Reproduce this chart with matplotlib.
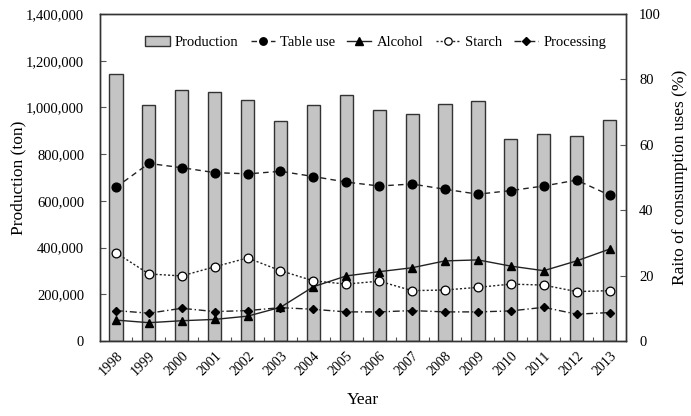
import matplotlib
matplotlib.use("Agg")
import matplotlib.pyplot as plt
from matplotlib.ticker import FuncFormatter, FixedLocator
from matplotlib.legend_handler import HandlerPatch
from matplotlib.patches import Rectangle
import numpy as np

years = ["1998", "1999", "2000", "2001", "2002", "2003", "2004", "2005",
         "2006", "2007", "2008", "2009", "2010", "2011", "2012", "2013"]
production = [1142000, 1010000, 1075000, 1065000, 1032000, 943000, 1010000, 1055000,
              990000, 970000, 1013000, 1028000, 866000, 886000, 878000, 946000]
table_use = [47.0, 54.3, 53.0, 51.5, 51.1, 51.9, 50.3, 48.6,
             47.4, 48.0, 46.4, 44.9, 46.0, 47.4, 49.2, 44.6]
alcohol = [6.4, 5.6, 6.2, 6.6, 7.6, 10.3, 16.6, 19.9,
           21.2, 22.4, 24.5, 24.8, 22.9, 21.5, 24.5, 28.1]
starch = [27.0, 20.5, 19.9, 22.7, 25.4, 21.5, 18.4, 17.4,
          18.3, 15.4, 15.6, 16.4, 17.4, 17.1, 15.1, 15.4]
processing = [9.3, 8.5, 10.0, 9.0, 9.3, 10.2, 9.7, 8.9,
              8.9, 9.3, 8.9, 8.9, 9.2, 10.3, 8.2, 8.7]

plt.rcParams['font.family'] = ['Liberation Serif', 'DejaVu Serif']

fig = plt.figure(figsize=(6.91, 4.16), dpi=100)
ax = fig.add_axes([99.5 / 691, 1 - 341 / 416, (626 - 99.5) / 691, (341 - 14) / 416])
x = np.arange(len(years))

bars = ax.bar(x, production, width=0.4, color='#c4c4c4', edgecolor='#333333',
              linewidth=1.0, label='Production', zorder=2)
ax.set_xlim(-0.5, len(years) - 0.5)
ax.set_ylim(0, 1400000)
ax.set_yticks(np.arange(0, 1400001, 200000))
ax.yaxis.set_major_formatter(FuncFormatter(lambda v, p: f"{int(v):,}"))
ax.set_xticks(x)
ax.set_xticklabels(years, rotation=45, ha='right', rotation_mode='anchor', fontsize=10)
ax.tick_params(axis='x', which='major', length=0, pad=6)
ax.xaxis.set_minor_locator(FixedLocator(np.arange(0.5, len(years) - 1, 1.0)))
ax.tick_params(axis='x', which='minor', direction='in', length=3, width=0.8, color='#555555')
ax.tick_params(axis='y', direction='in', length=4, width=0.8, labelsize=10.5,
               color='#555555', pad=11)
ax.set_ylabel('Production (ton)', fontsize=12.5, labelpad=-0.5)
ax.set_xlabel('Year', fontsize=12.5, labelpad=10)
for s in ax.spines.values():
    s.set_color('#333333')
    s.set_linewidth(1.0)

ax2 = ax.twinx()
ax2.set_ylim(0, 100)
ax2.set_yticks(np.arange(0, 101, 20))
ax2.tick_params(axis='y', direction='in', length=4, width=0.8, labelsize=10.5,
                color='#555555', pad=9.5)
ax2.set_ylabel('Raito of consumption uses (%)', fontsize=12.5, labelpad=8)
for s in ax2.spines.values():
    s.set_color('#333333')
    s.set_linewidth(1.0)

l1, = ax2.plot(x, table_use, linestyle=(0, (4, 3)), color='#222222', linewidth=1.0,
               marker='o', markersize=6.3, markerfacecolor='black', markeredgecolor='black',
               label='Table use')
l2, = ax2.plot(x, alcohol, linestyle='-', color='#222222', linewidth=1.0,
               marker='^', markersize=6.3, markerfacecolor='black', markeredgecolor='black',
               label='Alcohol')
l3, = ax2.plot(x, starch, linestyle=(0, (1.5, 1.5)), color='#222222', linewidth=1.0,
               marker='o', markersize=6.3, markerfacecolor='white', markeredgecolor='black',
               markeredgewidth=0.9, label='Starch')
l4, = ax2.plot(x, processing, linestyle=(0, (5, 2, 1, 2)), color='#222222', linewidth=1.0,
               marker='D', markersize=4.5, markerfacecolor='black', markeredgecolor='black',
               label='Processing')
ax2.set_xlim(-0.5, len(years) - 0.5)


def thin_patch(legend, orig_handle, xdescent, ydescent, width, height, fontsize):
    h = height * 0.55
    return Rectangle((-xdescent, -ydescent + (height - h) / 2), width, h)


leg = ax2.legend([bars, l1, l2, l3, l4],
                 ['Production', 'Table use', 'Alcohol', 'Starch', 'Processing'],
                 loc='upper center', bbox_to_anchor=(0.525, 0.96), ncol=5, frameon=False,
                 fontsize=10.5, handlelength=1.65, columnspacing=0.85, handletextpad=0.35,
                 borderaxespad=0.2, markerscale=0.85,
                 handler_map={type(bars.patches[0]): HandlerPatch(patch_func=thin_patch)})

fig.savefig('out.png', dpi=100)
